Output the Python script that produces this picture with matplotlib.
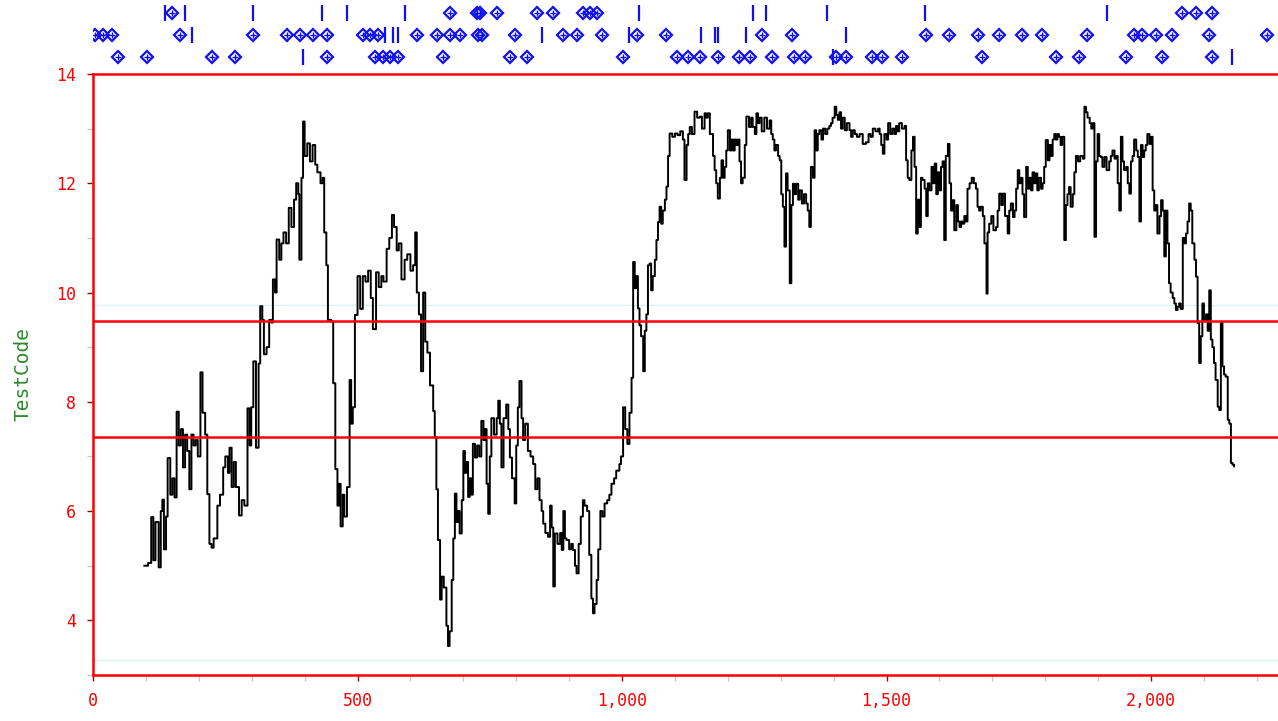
import numpy as np
import matplotlib.pyplot as plt
from matplotlib.ticker import MultipleLocator, FuncFormatter

sample = [97, 104, 110, 114, 118, 124, 128, 131, 134, 138, 141, 146, 150, 154, 158, 162, 166, 170, 174, 178,
          182, 186, 190, 194, 198, 203, 207, 212, 216, 220, 224, 228, 235, 240, 246, 250, 255, 258, 262, 266,
          270, 276, 281, 286, 292, 296, 299, 303, 308, 313, 316, 320, 323, 328, 333, 337, 340, 344, 347, 352,
          356, 360, 365, 370, 375, 380, 384, 388, 390, 394, 397, 400, 405, 410, 415, 420, 424, 430, 434, 437,
          441, 444, 450, 454, 458, 462, 465, 468, 472, 475, 480, 485, 488, 491, 495, 500, 505, 510, 515, 520,
          525, 529, 535, 540, 545, 549, 555, 560, 565, 569, 574, 578, 583, 589, 594, 600, 605, 609, 612,
          616, 620, 624, 628, 632, 637, 643, 646, 649, 652, 656, 659, 663, 668, 671, 674, 678, 681, 684, 687,
          690, 693, 697, 700, 703, 706, 709, 712, 715, 718, 722, 726, 730, 734, 738, 741, 744, 747, 750, 753,
          758, 763, 766, 769, 772, 776, 781, 785, 788, 792, 797, 800, 803, 806, 810, 813, 817, 822, 827, 832,
          836, 840, 844, 848, 851, 855, 860, 864, 867, 870, 873, 878, 883, 886, 889, 892, 895, 900, 904, 907,
          911, 914, 918, 922, 926, 929, 934, 938, 942, 945, 948, 952, 955, 959, 963, 967, 972, 976, 980, 985,
          989, 995, 998, 1002, 1006, 1010, 1014, 1018, 1021, 1024, 1027, 1030, 1033, 1036, 1040, 1043, 1046,
          1049, 1052, 1055, 1058,
          1062, 1065, 1068, 1071, 1074, 1077, 1081, 1084, 1087, 1090, 1095, 1100, 1105, 1110, 1115, 1118, 1122,
          1125, 1128, 1132, 1137, 1142, 1147, 1151, 1156, 1159, 1162, 1166, 1169, 1172, 1175, 1178, 1181, 1185,
          1188, 1191, 1194, 1197, 1200, 1204, 1207, 1210, 1213, 1216, 1219, 1222, 1225, 1228, 1232, 1235, 1240,
          1244, 1247, 1251, 1254, 1257, 1260, 1264, 1269, 1274, 1279, 1282, 1285, 1288, 1291, 1295, 1298, 1301,
          1304, 1307, 1310, 1313, 1317, 1320, 1323, 1326, 1329, 1333, 1336, 1340, 1344, 1348, 1351, 1354, 1357,
          1361, 1364, 1367, 1370, 1373, 1377, 1380, 1384, 1388, 1392, 1395, 1398, 1402, 1405, 1408, 1411, 1414,
          1417, 1421, 1425, 1430, 1433, 1436, 1440, 1444, 1449, 1455, 1461, 1466, 1470, 1474, 1479, 1484, 1487,
          1490, 1493, 1496, 1500, 1503, 1507, 1511, 1515, 1518, 1521, 1524, 1529, 1534, 1537, 1540, 1543, 1547,
          1550, 1553, 1556, 1559, 1562, 1565, 1568, 1572, 1575, 1578, 1581,
          1585, 1588, 1591, 1594, 1597, 1600, 1603, 1606, 1609, 1612, 1616, 1619, 1622, 1625, 1628, 1632, 1635,
          1638, 1641, 1644, 1647, 1650, 1653, 1657, 1661, 1665, 1669, 1672, 1675, 1678, 1682, 1685, 1689, 1691,
          1694, 1698, 1702, 1707, 1710, 1713, 1717, 1720, 1724, 1729, 1732, 1735, 1739, 1742, 1745, 1748, 1751,
          1754, 1757, 1760, 1764, 1767, 1770, 1773, 1776, 1779, 1782, 1785, 1788, 1792, 1795, 1798, 1801, 1805,
          1808, 1811, 1814, 1817, 1820, 1823, 1826, 1829, 1832, 1836, 1839, 1842, 1845, 1848, 1852, 1855, 1858,
          1862, 1866, 1871, 1874, 1877, 1880, 1884, 1887, 1890, 1893, 1896, 1899, 1902, 1905, 1908, 1912, 1916,
          1921, 1924, 1927, 1931, 1934, 1937, 1940, 1943, 1946, 1949, 1953, 1956, 1959, 1962, 1965, 1968, 1972,
          1975, 1978, 1981, 1984, 1987, 1990, 1993, 1997, 2000, 2003, 2006, 2009, 2012, 2016, 2019, 2022, 2025,
          2028, 2031, 2034, 2037, 2041, 2044, 2047, 2050, 2053, 2056, 2060, 2063, 2066, 2069, 2072, 2075, 2078,
          2082, 2085, 2088, 2091, 2094, 2097, 2100, 2104, 2107, 2110, 2113, 2116, 2119, 2122, 2126, 2129, 2132,
          2135, 2138, 2141, 2145, 2148, 2151, 2154, 2157]

test_code = [5.0, 5.05, 5.89, 5.1, 5.8, 4.97, 6.0, 6.21, 5.3, 5.9, 6.97, 6.3, 6.6, 6.25, 7.82, 7.2, 7.5, 6.8, 7.4, 7.1,
             6.4, 7.4, 7.2, 7.3, 7.0, 8.54, 7.8, 7.4, 6.31, 5.4, 5.33, 5.5, 6.1, 6.3, 6.8, 7.0, 6.7, 7.16, 6.44, 6.9,
             6.44, 5.92, 6.2, 6.1, 7.88, 7.2, 7.9, 8.74, 7.16, 8.7, 9.75, 9.5, 8.87, 9.0, 9.5, 9.45, 10.24, 10.0, 10.97, 10.6,
             10.9, 11.1, 10.9, 11.55, 11.2, 11.7, 12.0, 11.8, 10.6, 12.1, 13.13, 12.5, 12.73, 12.4, 12.7, 12.34, 12.2, 12.0, 12.1, 11.1,
             10.5, 9.5, 9.47, 8.34, 6.77, 6.1, 6.5, 5.72, 6.3, 5.9, 6.44, 8.4, 7.6, 7.9, 9.59, 10.3, 9.7, 10.3, 10.2, 10.4,
             9.9, 9.33, 10.37, 10.1, 10.3, 10.2, 10.8, 11.0, 11.42, 11.2, 10.77, 10.9, 10.24, 10.6, 10.7, 10.4, 10.5, 11.1, 10.0,
             9.6, 8.56, 10.0, 9.1, 8.9, 8.3, 7.83, 7.35, 6.4, 5.47, 4.38, 4.8, 4.6, 3.9, 3.53, 3.8, 4.74, 5.5, 6.32, 5.8,
             6.0, 5.59, 6.2, 7.1, 6.7, 6.9, 6.26, 6.6, 6.3, 7.23, 6.98, 7.2, 7.0, 7.65, 7.3, 7.5, 6.5, 5.95, 7.0, 7.7,
             7.4, 7.7, 8.02, 7.6, 6.8, 7.7, 7.95, 7.5, 6.98, 6.6, 6.14, 7.2, 7.9, 8.38, 7.7, 7.3, 7.6, 7.1, 7.0, 6.86,
             6.4, 6.6, 6.2, 6.0, 5.77, 5.6, 5.53, 6.1, 5.7, 4.62, 5.59, 5.4, 5.6, 5.29, 6.0, 5.5, 5.47, 5.3, 5.4, 5.29,
             5.0, 4.86, 5.4, 5.9, 6.2, 6.1, 6.0, 5.2, 4.4, 4.13, 4.3, 4.74, 5.3, 6.0, 5.9, 6.14, 6.2, 6.3, 6.5, 6.6,
             6.74, 6.86, 7.0, 7.9, 7.5, 7.23, 7.8, 8.44, 10.56, 10.08, 10.3, 9.71, 9.4, 9.2, 8.56, 9.3, 9.6,
             10.5, 10.53, 10.04, 10.3,
             10.6, 10.96, 11.29, 11.57, 11.26, 11.5, 11.7, 11.94, 12.5, 12.91, 12.85, 12.91, 12.88, 12.95, 12.8, 12.06, 12.7,
             12.9, 13.03, 12.9, 13.31, 13.2, 13.22, 13.0, 13.28, 13.2, 13.28, 12.9, 12.9, 12.5, 12.24, 12.0, 11.72, 12.1,
             12.42, 12.1, 12.3, 12.6, 12.97, 12.6, 12.8, 12.6, 12.8, 12.7, 12.8, 12.4, 12.0, 12.1, 12.7, 13.22, 13.03,
             13.2, 13.03, 12.9, 13.28, 13.1, 13.2, 12.95, 13.2, 13.0, 13.15, 12.9, 12.8, 12.6, 12.7, 12.5, 12.42, 11.8,
             11.57, 10.84, 12.18, 11.87, 10.17, 11.6, 11.99, 11.8, 11.99, 11.7, 11.87, 11.63, 11.8, 11.63, 11.5, 11.2, 12.3,
             12.1, 12.97, 12.6, 12.9, 12.97, 12.8, 13.0, 12.9, 13.0, 13.05, 13.1, 13.2, 13.4, 13.25, 13.16, 13.3, 13.0,
             13.2, 12.97, 13.1, 12.97, 12.85, 12.97, 12.9, 12.85, 12.9, 12.72, 12.75, 12.9, 12.85, 13.0, 12.95, 13.0, 12.9,
             12.7, 12.54, 12.9, 12.8, 13.1, 12.9, 13.0, 12.9, 13.05, 12.95, 13.1, 13.0, 13.05, 12.42, 12.1, 12.06, 12.6,
             12.85, 12.3, 11.08, 11.7, 11.2, 12.1, 12.06, 11.9, 11.4, 12.0, 11.87,
             12.3, 12.0, 12.36, 11.8, 12.2, 11.87, 12.3, 12.4, 10.96, 12.5, 12.72, 12.0, 11.5, 11.69, 11.14, 11.6, 11.3,
             11.2, 11.3, 11.26, 11.4, 11.3, 11.9, 12.0, 12.1, 12.0, 11.9, 11.57, 11.5, 11.57, 11.4, 10.9, 9.98, 11.1,
             11.26, 11.4, 11.14, 11.2, 11.5, 11.81, 11.6, 11.81, 11.4, 11.08, 11.5, 11.63, 11.38, 11.5, 11.9, 12.24, 12.0,
             12.1, 11.8, 11.38, 12.3, 11.9, 12.1, 11.87, 12.2, 12.0, 12.18, 11.87, 12.1, 11.9, 12.0, 12.3, 12.79, 12.42,
             12.7, 12.5, 12.8, 12.9, 12.8, 12.9, 12.85, 12.7, 12.85, 10.96, 11.6, 11.8, 11.93, 11.57, 11.8, 12.2, 12.5,
             12.4, 12.5, 12.45, 13.4, 13.3, 13.2, 13.1, 13.0, 13.1, 11.02, 12.4, 12.9, 12.5, 12.48, 12.3, 12.48, 12.24,
             12.4, 12.5, 12.6, 12.45, 12.5, 12.0, 11.5, 12.85, 12.4, 12.24, 12.3, 12.0, 11.81, 12.4, 12.5, 12.8, 12.6,
             12.48, 11.3, 12.7, 12.48, 12.6, 12.7, 12.9, 12.72, 12.85, 11.87, 11.5, 11.6, 11.08, 11.4, 11.69, 11.5, 10.66,
             11.5, 10.9, 10.17, 10.0, 9.9, 9.8, 9.68, 9.74, 9.8, 9.7, 11.0, 10.9, 11.08, 11.3, 11.63, 11.5, 10.9,
             10.6, 10.29, 9.44, 8.71, 9.2, 9.8, 9.5, 9.6, 9.3, 10.04, 9.14, 9.0, 8.71, 8.4, 7.91, 7.85, 9.44,
             8.65, 8.5, 8.46, 7.67, 7.6, 6.88, 6.85, 6.82]

upper_line = 9.47
lower_line = 7.36

# event markers shown in the strip above the chart (three rows)
row1_diamonds = [149, 674, 725, 731, 763, 839, 869, 926, 939, 952, 2059, 2085, 2116]
row1_ticks = [136, 174, 302, 433, 480, 589, 1033, 1247, 1273, 1388, 1572, 1917]
row2_diamonds = [4, 19, 36, 164, 302, 366, 391, 416, 442, 510, 523, 538, 612, 650, 674, 693, 727, 735, 797,
                 888, 914, 963, 1028, 1084, 1264, 1322, 1575, 1619, 1672, 1713, 1757, 1793, 1878, 1968, 1983,
                 2010, 2040, 2110, 2220]
row2_ticks = [187, 552, 567, 576, 848, 1014, 1150, 1175, 1181, 1235, 1424]
row3_diamonds = [47, 102, 225, 268, 442, 533, 548, 561, 576, 661, 788, 820, 1001, 1103, 1124, 1147, 1181,
                 1222, 1241, 1284, 1326, 1345, 1405, 1424, 1473, 1492, 1530, 1681, 1821, 1864, 1953, 2021, 2116]
row3_ticks = [397, 1398, 2153]

red = '#ff0000'
mono = 'DejaVu Sans Mono'

fig = plt.figure(figsize=(12.78, 7.21), dpi=100)
ax = fig.add_axes([0.0728, 0.0638, 0.9272, 0.8336])

ax.plot(sample, test_code, color='black', linewidth=1.4, drawstyle='steps-post')
ax.axhline(upper_line, color=red, linewidth=1.8)
ax.axhline(lower_line, color=red, linewidth=1.8)
ax.axhline(9.77, color='#d8f4f0', linewidth=1.0, zorder=0)
ax.axhline(3.27, color='#d8f4f0', linewidth=1.0, zorder=0)

ax.set_xlim(0, 2240)
ax.set_ylim(3, 14)

for side in ['left', 'top', 'bottom']:
    ax.spines[side].set_color(red)
    ax.spines[side].set_linewidth(1.8)
ax.spines['right'].set_visible(False)

ax.xaxis.set_major_locator(MultipleLocator(500))
ax.xaxis.set_minor_locator(MultipleLocator(100))
ax.yaxis.set_major_locator(MultipleLocator(2))
ax.yaxis.set_minor_locator(MultipleLocator(1))
ax.xaxis.set_major_formatter(FuncFormatter(lambda v, p: f'{int(v):,}'))
ax.tick_params(axis='both', which='major', colors='#a00000', labelcolor=red,
               labelsize=12, length=4, width=1)
ax.tick_params(axis='both', which='minor', colors='#c8c8c8', length=4, width=1)
ax.tick_params(axis='x', which='major', pad=8)
ax.tick_params(axis='y', which='major', pad=8)
for lab in ax.get_xticklabels() + ax.get_yticklabels():
    lab.set_family(mono)

ax.set_ylabel('TestCode', color='#2a8a2a', fontsize=14, family=mono, labelpad=17)

# event strip
top = fig.add_axes([0.0728, 0.903, 0.9272, 0.097])
top.set_xlim(0, 2240)
top.set_ylim(3.6, 0.4)
top.axis('off')
for row, dia, tks in [(1, row1_diamonds, row1_ticks),
                      (2, row2_diamonds, row2_ticks),
                      (3, row3_diamonds, row3_ticks)]:
    top.plot(dia, [row] * len(dia), linestyle='none', marker='D', markersize=6.5,
             markerfacecolor='none', markeredgecolor='#1010ee', markeredgewidth=1.6)
    top.plot(dia, [row] * len(dia), linestyle='none', marker='+', markersize=5,
             color='#1010ee', markeredgewidth=1)
    top.plot(tks, [row] * len(tks), linestyle='none', marker='|', markersize=11,
             color='#1010ee', markeredgewidth=1.6)

plt.savefig('out.png', dpi=100)
